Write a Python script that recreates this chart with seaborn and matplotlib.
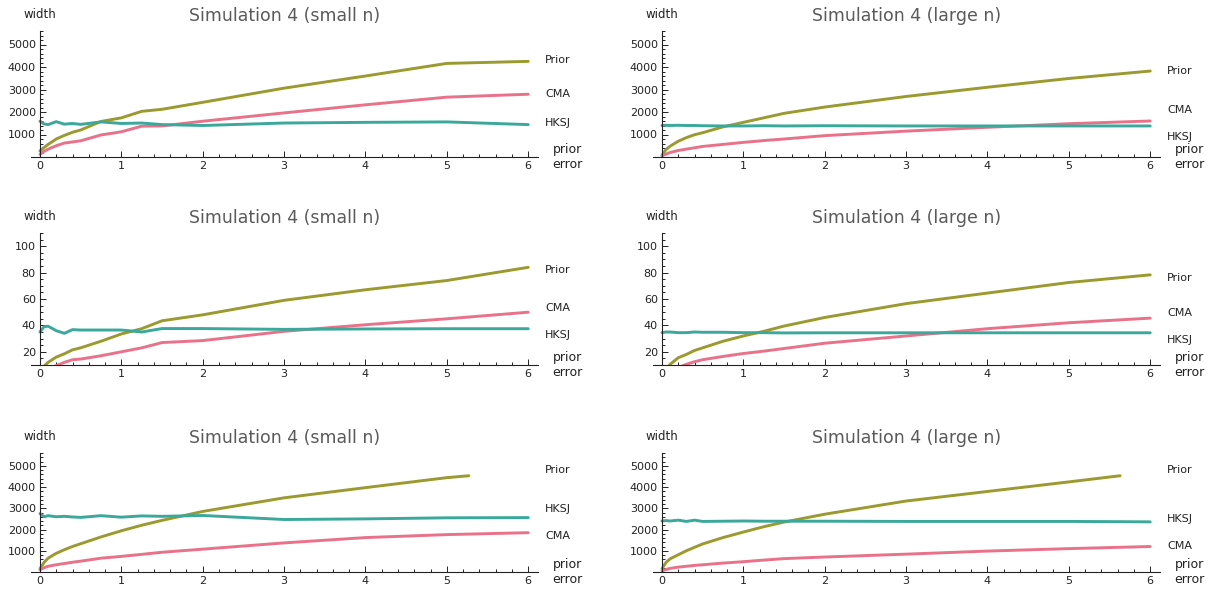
import matplotlib
matplotlib.use("Agg")
import matplotlib.pyplot as plt
from matplotlib.ticker import MultipleLocator, FixedLocator
import pandas as pd
import seaborn as sns

# prior error grid shared by the panels
x_err = [0, 0.05, 0.1, 0.2, 0.3, 0.4, 0.5, 0.75, 1, 1.25, 1.5, 2, 3, 4, 5, 6]
x_prior_c_small = x_err[:15] + [5.27]
x_prior_c_large = x_err[:15] + [5.63]

# row 1
prior_a_small = [270, 420, 560, 800, 960, 1100, 1200, 1580, 1740, 2030, 2120, 2430, 3060, 3600, 4160, 4250]
cma_a_small = [120, 250, 350, 500, 620, 670, 720, 980, 1120, 1370, 1380, 1590, 1960, 2320, 2660, 2790]
hksj_a_small = [1590, 1470, 1440, 1570, 1460, 1490, 1450, 1560, 1490, 1510, 1440, 1400, 1510, 1540, 1560, 1440]

prior_a_large = [80, 330, 480, 700, 860, 990, 1080, 1340, 1540, 1740, 1940, 2220, 2690, 3100, 3490, 3820]
cma_a_large = [50, 130, 200, 290, 350, 410, 470, 560, 650, 730, 800, 950, 1150, 1320, 1480, 1600]
hksj_a_large = [1400, 1410, 1400, 1410, 1400, 1400, 1390, 1380, 1380, 1390, 1380, 1390, 1380, 1380, 1380, 1380]

# row 2
prior_b_small = [5, 9, 12, 16, 18.5, 21.5, 23, 28, 33.5, 37.5, 43.5, 48, 59, 67, 74, 84]
cma_b_small = [3, 5, 7, 9.5, 12, 14, 14.5, 17, 20, 23, 27, 28.5, 35.5, 40.5, 45, 50]
hksj_b_small = [35, 39, 39.4, 36, 34, 36.8, 36.5, 36.5, 36.5, 35, 37.6, 37.6, 37, 37.3, 37.5, 37.5]

prior_b_large = [2, 7, 10.5, 15.5, 18, 21, 23, 28, 32, 35.5, 39.5, 46, 56.5, 64.5, 72.5, 78.3]
cma_b_large = [0, 3, 5, 8, 10.5, 12.5, 14, 16.5, 18.7, 20.5, 22.5, 26.5, 32, 37.5, 42, 45.5]
hksj_b_large = [34.5, 35, 35, 34.5, 34.5, 35, 34.8, 34.8, 34.5, 34.5, 34.3, 34.4, 34.4, 34.4, 34.4, 34.4]

# row 3
prior_c_small = [150, 450, 650, 880, 1050, 1200, 1330, 1650, 1940, 2200, 2430, 2850, 3490, 3970, 4440, 4530]
cma_c_small = [100, 200, 270, 340, 400, 460, 510, 650, 735, 830, 930, 1075, 1370, 1620, 1760, 1850]
hksj_c_small = [2750, 2600, 2650, 2600, 2620, 2590, 2570, 2650, 2580, 2640, 2620, 2660, 2470, 2500, 2550, 2560]

prior_c_large = [150, 450, 620, 810, 1000, 1160, 1320, 1620, 1880, 2130, 2350, 2720, 3340, 3790, 4240, 4530]
cma_c_large = [50, 120, 170, 230, 270, 310, 340, 420, 485, 560, 630, 705, 840, 985, 1100, 1200]
hksj_c_large = [2400, 2420, 2400, 2440, 2380, 2440, 2380, 2390, 2400, 2390, 2390, 2390, 2380, 2380, 2380, 2360]

titles = ["Simulation 4 (small n)", "Simulation 4 (large n)"]

sns.set_style("ticks")
plt.rcParams['font.family'] = ['DejaVu Sans']

colors = {"CMA": "#e9718a", "Prior": "#9a9a2e", "HKSJ": "#3aa89a"}

W, H = 1215, 594
fig = plt.figure(figsize=(W / 100, H / 100), dpi=100)

col_left = [31, 653]
col_width = 507
rows = [(31, 157), (233, 365), (453, 572)]


def make_df(prior_x, prior, cma, hksj):
    parts = [
        pd.DataFrame({"err": prior_x, "width": prior, "method": "Prior"}),
        pd.DataFrame({"err": x_err, "width": cma, "method": "CMA"}),
        pd.DataFrame({"err": x_err, "width": hksj, "method": "HKSJ"}),
    ]
    return pd.concat(parts, ignore_index=True)


def draw(row, col, df, ylim, majors, minor, labels):
    top, bottom = rows[row]
    ax = fig.add_axes([col_left[col] / W, 1 - bottom / H, col_width / W, (bottom - top) / H])
    sns.lineplot(data=df, x="err", y="width", hue="method", palette=colors,
                 estimator=None, sort=False, legend=False, lw=2.1, ax=ax)
    ax.set_xlim(-0.11, 6.12)
    ax.set_ylim(*ylim)
    ax.spines['top'].set_visible(False)
    ax.spines['right'].set_visible(False)
    ax.spines['left'].set_position(('data', 0))
    for s in ('left', 'bottom'):
        ax.spines[s].set_color('#222222')
        ax.spines[s].set_linewidth(0.8)
    ax.xaxis.set_major_locator(FixedLocator(range(7)))
    ax.xaxis.set_minor_locator(MultipleLocator(0.2))
    ax.yaxis.set_major_locator(FixedLocator(majors))
    ax.yaxis.set_minor_locator(MultipleLocator(minor))
    ax.tick_params(which='both', direction='in', color='#222222', width=0.7,
                   labelsize=8, labelcolor='#222222')
    ax.tick_params(which='major', length=4, pad=3)
    ax.tick_params(which='minor', length=2)
    ax.set_xlabel("")
    ax.set_ylabel("")
    ax.annotate(titles[col], xy=(0.5, 1), xycoords='axes fraction', xytext=(0, 11),
                textcoords='offset points', ha='center', va='center',
                fontsize=12.5, color='#5a5a5a')
    ax.annotate("width", xy=(0, ylim[1]), xycoords='data', xytext=(0, 12),
                textcoords='offset points', ha='center', va='center',
                fontsize=8.5, color='#222222', annotation_clip=False)
    for name, yv in labels.items():
        ax.annotate(name, xy=(1, yv), xycoords=('axes fraction', 'data'), xytext=(5, 0),
                    textcoords='offset points', ha='left', va='center',
                    fontsize=8, color='#222222', annotation_clip=False)
    ax.annotate("prior\nerror", xy=(1, 0), xycoords='axes fraction', xytext=(10, 0),
                textcoords='offset points', ha='left', va='center', multialignment='center',
                fontsize=9, color='#222222', linespacing=1.15, annotation_clip=False)
    return ax


big = [1000, 2000, 3000, 4000, 5000]
small = [20, 40, 60, 80, 100]

draw(0, 0, make_df(x_err, prior_a_small, cma_a_small, hksj_a_small), (0, 5600), big, 200,
     {"Prior": 4290, "CMA": 2820, "HKSJ": 1490})
draw(0, 1, make_df(x_err, prior_a_large, cma_a_large, hksj_a_large), (0, 5600), big, 200,
     {"Prior": 3840, "CMA": 2070, "HKSJ": 910})
draw(1, 0, make_df(x_err, prior_b_small, cma_b_small, hksj_b_small), (10, 110), small, 5,
     {"Prior": 82, "CMA": 53, "HKSJ": 33})
draw(1, 1, make_df(x_err, prior_b_large, cma_b_large, hksj_b_large), (10, 110), small, 5,
     {"Prior": 76, "CMA": 49.4, "HKSJ": 29})
draw(2, 0, make_df(x_prior_c_small, prior_c_small, cma_c_small, hksj_c_small), (0, 5600), big, 200,
     {"Prior": 4800, "HKSJ": 2965, "CMA": 1694})
draw(2, 1, make_df(x_prior_c_large, prior_c_large, cma_c_large, hksj_c_large), (0, 5600), big, 200,
     {"Prior": 4800, "HKSJ": 2494, "CMA": 1224})

fig.savefig("out.png", dpi=100)
